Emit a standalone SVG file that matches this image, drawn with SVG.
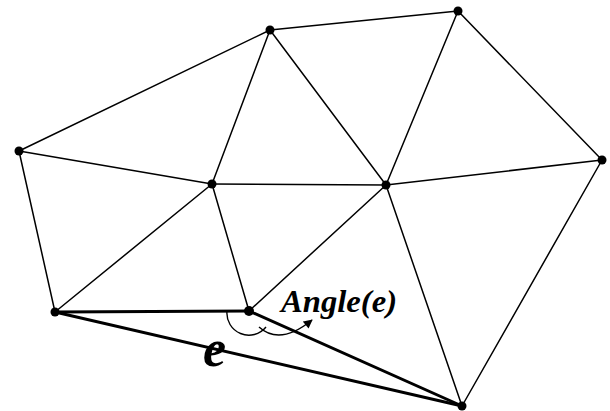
<svg xmlns="http://www.w3.org/2000/svg" width="610" height="411" viewBox="0 0 610 411">
<defs>
<style>
.e{stroke:#000;stroke-width:1.5;fill:none;stroke-linecap:round}
.t{stroke:#000;stroke-width:3;fill:none;stroke-linecap:round}
.a{stroke:#000;stroke-width:1.4;fill:none}
.n{fill:#000}
.lbl{font-family:"Liberation Serif","Times New Roman",serif;font-weight:bold;font-style:italic;fill:#000}
</style>
<marker id="arr" viewBox="0 0 10 10" refX="9" refY="5" markerWidth="10" markerHeight="9" markerUnits="userSpaceOnUse" orient="auto"><path d="M0,0 L10,5 L0,10 z" fill="#000"/></marker>
</defs>
<rect width="610" height="411" fill="#fff"/>
<g id="connectors">
<line class="e" x1="19" y1="151" x2="270" y2="30"/>
<line class="e" x1="270" y1="30" x2="458" y2="11"/>
<line class="e" x1="270" y1="30" x2="212" y2="184"/>
<line class="e" x1="270" y1="30" x2="386" y2="185"/>
<line class="e" x1="458" y1="11" x2="386" y2="185"/>
<line class="e" x1="458" y1="11" x2="602" y2="160"/>
<line class="e" x1="19" y1="151" x2="212" y2="184"/>
<line class="e" x1="19" y1="151" x2="55" y2="312"/>
<line class="e" x1="212" y1="184" x2="386" y2="185"/>
<line class="e" x1="386" y1="185" x2="602" y2="160"/>
<line class="e" x1="212" y1="184" x2="55" y2="312"/>
<line class="e" x1="212" y1="184" x2="249" y2="311"/>
<line class="e" x1="249" y1="311" x2="386" y2="185"/>
<line class="e" x1="386" y1="185" x2="462" y2="406"/>
<line class="e" x1="602" y1="160" x2="462" y2="406"/>
<line class="t" x1="55" y1="312" x2="249" y2="311"/>
<line class="t" x1="55" y1="312" x2="462" y2="406"/>
<line class="t" x1="249" y1="311" x2="462" y2="406"/>
<path class="a" d="M227,311 A22,22 0 0 0 266,327"/>
<path class="a" d="M259,327 Q280,346 312,320" marker-end="url(#arr)"/>
</g>
<g id="nA"><circle class="n" cx="270" cy="30" r="4.5"/></g>
<g id="nB"><circle class="n" cx="458" cy="11" r="4.5"/></g>
<g id="nC"><circle class="n" cx="19" cy="151" r="4.5"/></g>
<g id="nD"><circle class="n" cx="212" cy="184" r="4.5"/></g>
<g id="nE"><circle class="n" cx="386" cy="185" r="4.5"/></g>
<g id="nF"><circle class="n" cx="602" cy="160" r="4.5"/></g>
<g id="nG"><circle class="n" cx="55" cy="312" r="4.5"/></g>
<g id="nH"><circle class="n" cx="249" cy="311" r="5"/></g>
<g id="nI"><circle class="n" cx="462" cy="406" r="4.5"/></g>
<g id="labels">
<text class="lbl" x="281" y="312" font-size="31" textLength="116" lengthAdjust="spacingAndGlyphs">Angle(e)</text>
<text class="lbl" x="203" y="366" font-size="52">e</text>
</g>
</svg>
